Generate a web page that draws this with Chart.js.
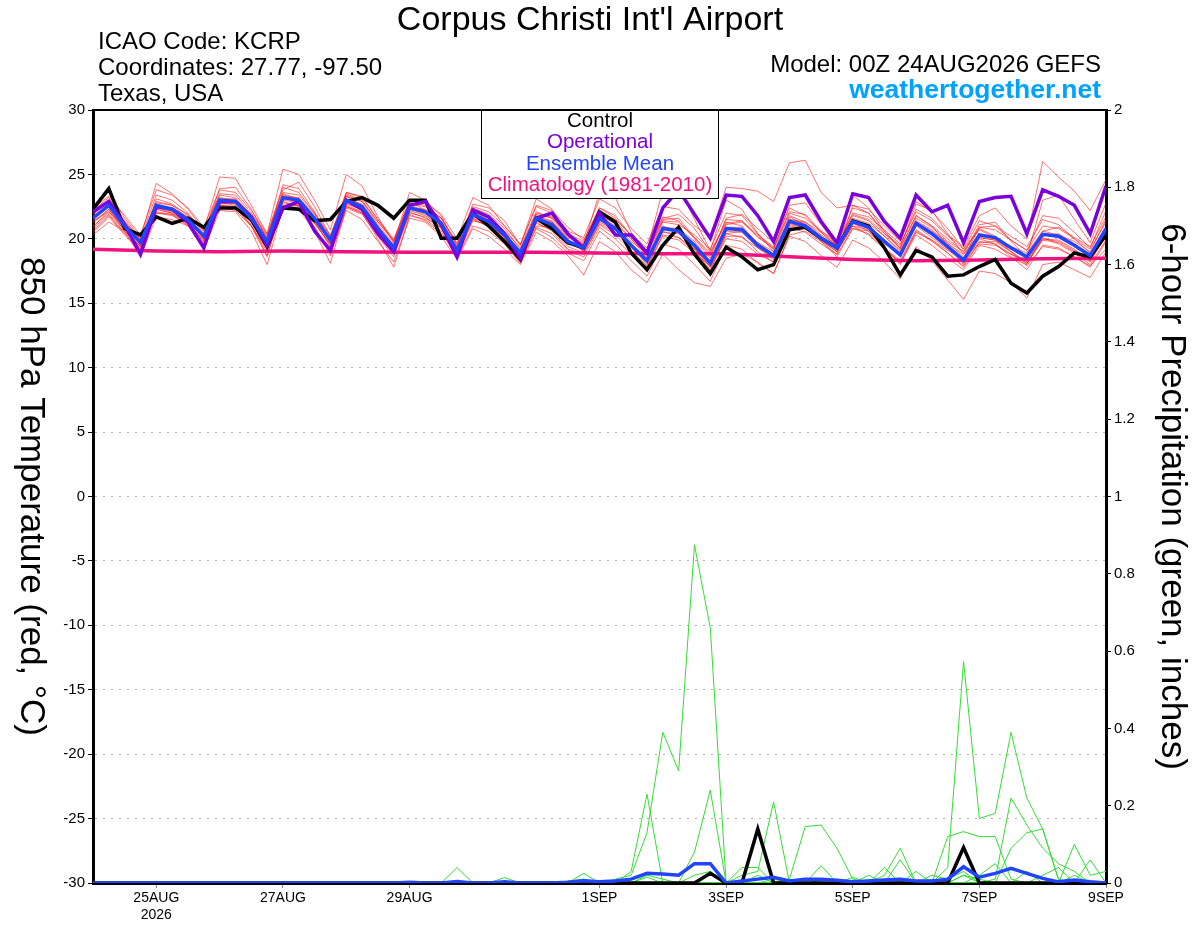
<!DOCTYPE html>
<html>
<head>
<meta charset="utf-8">
<title>Corpus Christi Int'l Airport</title>
<script src="https://cdn.jsdelivr.net/npm/chart.js@4.4.1/dist/chart.umd.min.js"></script>
<style>
  body { margin: 0; background: #ffffff; }
  canvas { display: block; }
</style>
</head>
<body>
<canvas id="grafico" width="1200" height="927"></canvas>
<script>
// Datos: pasos de 6 horas desde 00Z 24AUG2026 hasta 00Z 9SEP2026 (65 valores)
const stepHours = 6;

// eje x: horas desde el inicio y sus etiquetas
const tickHours = [24, 72, 120, 192, 240, 288, 336, 384];
const tickLabels = [['25AUG', '2026'], '27AUG', '29AUG', '1SEP', '3SEP', '5SEP', '7SEP', '9SEP'];

// climatologia (1981-2010), un valor por dia
const climDays = [0, 1, 2, 3, 4, 5, 6, 7, 8, 9, 10, 11, 12, 13, 14, 15, 16];
const climTemp = [19.2, 19.05, 19.0, 19.05, 19.0, 18.95, 18.95, 18.95, 18.9, 18.85, 18.85, 18.6, 18.4, 18.3, 18.35, 18.45, 18.5];

// temperatura 850 hPa (C)
const controlTemp = [
  22.3, 23.9, 20.8, 20.3, 21.7, 21.2, 21.6, 20.9, 22.4, 22.4, 21.5, 19.4, 22.4, 22.3, 21.4, 21.5,
  22.9, 23.2, 22.6, 21.6, 23.0, 23.0, 20.05, 20.05, 22.0, 21.0, 19.8, 18.4, 21.6, 20.8, 19.7, 19.3,
  22.1, 21.3, 18.9, 17.6, 19.5, 20.9, 18.8, 17.3, 19.35, 18.6, 17.6, 18.0, 20.7, 20.9, 20.05, 19.3,
  21.4, 21.0, 19.3, 17.2, 19.1, 18.6, 17.1, 17.2, 17.85, 18.4, 16.55, 15.8, 17.1, 17.85, 18.9, 18.6,
  20.3];
const operTemp = [
  22.1, 22.9, 21.1, 18.8, 22.5, 22.3, 21.3, 19.3, 22.9, 22.9, 21.7, 19.5, 22.4, 22.9, 20.6, 19.1,
  23.0, 22.3, 20.4, 19.0, 22.6, 22.9, 21.1, 18.6, 22.25, 21.7, 20.4, 18.5, 21.6, 22.0, 20.4, 19.3,
  22.0, 20.3, 20.3, 18.9, 22.4, 23.8, 21.9, 20.05, 23.4, 23.3, 21.8, 19.8, 23.2, 23.4, 21.35, 19.7,
  23.5, 23.2, 21.35, 20.05, 23.4, 22.1, 22.6, 19.7, 22.9, 23.2, 23.3, 20.4, 23.8, 23.3, 22.6, 20.4,
  24.1];
const meanTemp = [
  21.6, 22.6, 21.0, 19.7, 22.6, 22.3, 21.5, 20.2, 23.0, 22.9, 21.6, 19.8, 23.2, 23.0, 21.6, 19.9,
  23.0, 22.5, 20.8, 19.3, 22.4, 22.1, 21.2, 19.1, 21.9, 21.35, 20.3, 18.9, 21.6, 21.1, 19.8, 19.3,
  21.6, 20.8, 19.5, 18.3, 20.8, 20.6, 19.5, 18.1, 20.8, 20.7, 19.5, 18.7, 21.35, 21.0, 20.05, 19.3,
  21.35, 20.9, 19.8, 18.75, 21.2, 20.4, 19.4, 18.35, 20.3, 20.1, 19.3, 18.6, 20.35, 20.2, 19.5, 18.7,
  20.8];

// miembros del ensamble (lineas rojas)
const ens01 = [22.5,23.6,21.6,20.1, 24.3,23.5,22.3,20.7, 24.8,24.7,22.6,20.4, 25.4,25.0,23.0,20.7, 25.0,24.1,21.7,19.7, 23.6,23.0,21.8,19.4, 22.7,22.4,21.4,19.5, 23.1,22.3,20.3,19.5, 23.6,23.2,20.5,19.1, 23.8,24.1,21.5,19.1, 23.0,22.3,20.4,19.2, 22.6,22.8,21.1,19.5, 23.4,22.4,20.6,19.3, 22.7,22.2,20.4,18.8, 21.1,21.3,19.8,18.6, 23.0,23.4,21.5,19.7, 22.8];
const ens02 = [21.2,22.3,20.8,19.3, 22.0,21.9,21.2,19.8, 22.5,22.4,21.0,19.2, 22.6,22.7,21.2,19.6, 23.3,22.9,21.3,19.9, 23.0,22.8,21.9,20.0, 23.2,22.6,21.0,19.6, 22.5,22.0,20.6,20.1, 23.1,22.4,20.8,19.6, 22.5,22.3,21.0,20.2, 24.0,23.9,23.7,22.9, 25.9,26.1,23.6,22.4, 22.6,22.0,20.6,19.2, 21.8,21.0,19.5,18.0, 20.0,19.6,18.6,17.6, 19.5,19.3,18.6,17.9, 19.2];
const ens03 = [20.8,21.9,20.5,19.5, 23.1,22.7,21.8,20.6, 23.5,23.4,22.0,20.3, 23.8,24.4,22.5,20.2, 23.6,23.3,21.5,19.8, 22.8,22.6,21.6,19.7, 22.4,21.9,20.8,19.2, 22.0,21.7,20.4,19.0, 21.8,21.0,19.8,18.9, 21.5,21.6,20.1,18.9, 21.2,21.4,20.3,19.4, 22.1,21.9,20.6,19.6, 22.4,22.0,20.4,19.5, 22.3,21.6,20.3,19.4, 21.8,22.4,21.0,20.0, 26.0,24.8,23.7,22.2, 24.6];
const ens04 = [20.3,21.3,20.6,18.6, 21.7,21.5,21.0,19.2, 22.2,22.1,20.6,18.0, 22.4,22.3,20.6,18.1, 22.5,22.0,20.0,17.8, 21.8,21.5,20.6,18.5, 21.0,20.6,19.6,18.1, 20.8,20.1,18.9,18.3, 20.6,19.6,18.3,17.1, 19.6,19.2,18.0,16.7, 19.5,19.2,18.1,17.3, 20.2,19.8,18.7,17.8, 19.9,19.3,18.2,16.9, 19.4,18.3,16.8,15.3, 17.5,17.3,16.6,15.4, 18.0,18.2,17.6,17.0, 19.0];
const ens05 = [21.0,22.0,20.7,19.2, 22.3,22.0,21.3,19.8, 22.6,22.5,21.0,18.6, 22.6,22.4,20.9,18.7, 22.2,21.5,19.8,18.2, 21.6,21.3,20.2,18.4, 20.8,20.2,19.2,18.0, 20.5,19.8,18.7,17.2, 19.8,19.0,17.6,16.6, 18.8,17.6,16.6,16.3, 18.5,18.8,18.2,17.3, 20.3,20.6,19.8,18.6, 20.8,20.6,19.3,18.0, 20.6,19.8,18.9,17.8, 19.7,19.8,19.0,18.2, 20.0,19.9,19.2,18.3, 20.4];
const ens06 = [21.9,22.8,21.3,19.9, 22.9,22.6,21.9,20.6, 23.4,23.2,21.8,20.1, 23.6,23.4,22.0,20.3, 23.4,22.9,21.1,19.6, 22.7,22.5,21.6,19.5, 22.3,21.7,20.6,19.3, 22.1,21.6,20.2,19.7, 22.1,21.4,20.0,18.8, 21.4,21.3,20.1,18.7, 21.5,21.4,20.1,19.3, 22.0,21.6,20.6,19.8, 21.9,21.5,20.4,19.3, 21.8,21.0,20.0,19.0, 20.9,20.7,19.9,19.1, 21.0,20.8,20.0,19.2, 21.3];
const ens07 = [21.3,22.3,20.7,19.4, 22.3,22.0,21.2,19.9, 22.6,22.5,21.3,19.5, 22.8,22.6,21.2,19.6, 22.6,22.1,20.4,18.9, 22.0,21.7,20.8,18.7, 21.5,21.0,19.9,18.5, 21.2,20.7,19.4,18.9, 21.1,20.3,19.1,17.9, 20.3,20.1,19.0,17.6, 20.2,20.2,19.0,18.2, 20.9,20.5,19.6,18.8, 20.8,20.4,19.3,18.3, 20.7,19.9,18.9,17.9, 19.8,19.6,18.8,18.1, 19.9,19.7,19.0,18.2, 20.3];
const ens08 = [22.2,23.2,21.4,20.0, 23.4,23.0,22.0,20.4, 23.9,24.0,22.3,20.0, 24.2,23.9,22.1,19.7, 23.3,22.6,20.5,18.8, 22.1,21.6,20.9,18.6, 21.4,21.1,20.2,18.7, 21.9,21.6,20.4,19.8, 22.4,21.8,20.2,18.9, 21.6,21.9,20.8,19.0, 21.3,21.0,19.6,18.5, 21.7,21.1,19.8,18.8, 22.6,22.3,21.0,19.8, 22.9,22.1,20.8,19.2, 20.8,20.2,19.0,17.9, 19.4,19.2,18.6,17.8, 19.8];
const ens09 = [20.6,21.8,20.4,19.1, 22.0,21.8,21.1,19.6, 22.4,22.2,21.0,19.0, 22.5,22.6,21.4,19.9, 23.6,23.2,21.5,20.0, 22.9,22.2,21.0,18.9, 21.6,21.2,20.1,18.6, 21.3,20.6,19.2,18.8, 21.2,20.5,19.3,18.2, 20.9,20.8,19.8,18.3, 21.1,21.3,20.2,19.2, 21.8,21.3,20.3,19.5, 21.2,20.6,19.3,18.1, 20.3,19.5,18.5,17.6, 19.5,19.2,18.5,18.0, 20.2,20.4,19.6,18.6, 20.9];
const ens10 = [21.8,22.5,21.1,19.8, 22.6,22.4,21.7,20.3, 23.1,23.1,21.9,20.2, 23.5,23.1,21.4,19.4, 22.5,22.0,20.6,19.1, 22.4,22.3,21.6,19.6, 22.5,22.1,21.0,19.5, 22.6,22.2,20.9,19.9, 22.4,21.6,20.3,18.6, 20.6,20.1,19.2,17.8, 20.0,19.8,18.8,18.2, 21.0,20.8,19.9,19.0, 21.0,20.3,19.2,18.2, 20.5,19.9,19.1,18.5, 20.9,21.0,20.2,19.4, 21.5,21.1,20.0,18.9, 20.7];
const ens11 = [21.4,22.1,20.9,19.6, 22.8,22.6,21.6,20.2, 22.9,22.7,21.5,19.7, 23.0,22.8,21.6,20.1, 23.1,22.7,21.0,19.4, 22.3,21.9,21.0,19.0, 21.8,21.2,20.0,18.6, 21.5,21.3,20.1,19.6, 22.1,21.5,20.3,19.3, 21.7,21.4,20.0,18.5, 21.6,21.9,20.8,19.7, 22.4,21.8,20.5,19.4, 21.4,20.9,19.9,18.9, 21.6,20.9,19.8,19.0, 20.7,20.1,19.4,18.9, 20.6,20.3,19.8,19.0, 21.5];
const ens12 = [21.9,23.0,21.3,20.0, 22.4,22.1,21.4,20.0, 23.0,22.8,21.3,19.6, 23.3,23.2,21.9,20.2, 22.8,22.2,20.6,19.0, 22.2,21.8,20.9,18.8, 21.7,21.3,20.5,19.0, 21.8,21.3,20.0,19.0, 21.3,20.7,19.4,18.0, 20.5,20.4,19.3,17.8, 20.4,20.6,19.7,19.0, 21.5,21.2,20.2,19.1, 21.6,21.2,20.2,19.1, 21.4,20.7,19.6,18.8, 20.4,20.0,19.2,18.5, 20.6,20.9,20.1,19.4, 21.7];
const ens13 = [20.9,22.2,20.6,19.4, 22.1,21.9,21.0,19.7, 22.8,22.6,21.1,18.7, 22.9,22.5,20.9,18.9, 22.4,21.9,20.2,18.6, 21.9,21.4,20.4,18.9, 21.9,21.4,20.1,18.5, 21.0,20.9,19.8,19.2, 21.4,20.8,19.4,18.3, 21.0,20.5,19.2,17.5, 20.4,20.1,19.3,18.6, 21.1,20.9,19.9,19.0, 21.0,20.7,19.6,18.9, 21.3,20.6,19.7,18.6, 19.6,19.5,18.8,18.3, 20.1,19.6,18.9,18.0, 19.9];
const ens14 = [22.4,23.3,21.8,20.3, 23.8,23.4,22.4,20.9, 23.8,23.6,22.2,20.4, 24.0,23.6,22.0,20.0, 23.5,23.0,21.3,19.8, 22.6,22.2,21.4,19.3, 22.1,21.5,20.5,19.1, 21.7,21.4,20.2,19.4, 21.8,21.2,20.0,18.5, 21.3,21.1,20.3,19.2, 22.0,21.8,20.4,19.0, 21.2,20.9,20.0,19.4, 22.0,21.7,20.7,19.6, 22.1,21.4,20.2,19.2, 21.4,21.0,19.9,19.1, 21.8,21.6,20.5,19.3, 22.2];
const ens15 = [21.5,22.7,21.2,19.9, 22.5,22.2,21.5,20.1, 23.2,23.0,21.7,19.9, 23.4,23.1,21.5,19.8, 22.9,22.4,20.8,19.3, 22.5,22.1,21.1,19.1, 21.8,21.3,20.2,18.8, 21.4,21.0,19.7,19.1, 21.5,20.9,19.6,18.4, 20.9,20.7,19.6,18.2, 20.9,20.9,19.7,18.8, 21.3,21.0,20.1,19.3, 21.2,20.8,19.7,18.7, 21.1,20.3,19.3,18.4, 20.1,19.9,19.2,18.6, 20.3,20.1,19.4,18.6, 20.6];
const ens16 = [20.5,21.7,20.3,19.0, 22.5,22.4,21.6,20.0, 22.7,22.8,21.5,19.8, 23.1,22.9,21.3,19.4, 22.7,22.3,20.9,19.5, 22.5,22.0,21.0,18.9, 21.6,20.9,19.7,18.2, 20.9,20.4,19.1,18.6, 20.9,20.0,18.8,17.8, 20.2,19.9,18.9,17.9, 20.6,20.5,19.3,18.4, 21.5,21.3,20.5,19.5, 21.8,21.4,20.2,19.0, 21.0,20.1,19.2,18.1, 20.1,19.9,19.0,18.1, 20.0,19.8,19.1,18.3, 20.4];
const ensembleTemp = [ens01, ens02, ens03, ens04, ens05, ens06, ens07, ens08, ens09, ens10, ens11, ens12, ens13, ens14, ens15, ens16];

// precipitacion de 6 horas (pulgadas)
const controlPrecip = [
  0,0,0,0,0,0,0,0,0,0,0,0,0,0,0,0,
  0,0,0,0,0,0,0,0,0,0,0,0,0,0,0,0,
  0,0,0,0,0,0,0,0.025,0,0,0.14,0,0,0,0,0,
  0,0,0,0,0,0,0,0.092,0,0,0,0,0,0,0,0,
  0];
const meanPrecip = [
  0,0,0,0,0,0,0,0,0,0,0,0,0,0,0,0,
  0,0,0,0,0.002,0,0,0.004,0,0,0.003,0,0,0,0.002,0.006,
  0.003,0.005,0.01,0.025,0.023,0.02,0.05,0.05,0,0.005,0.01,0.015,0.005,0.01,0.01,0.007,
  0.003,0.005,0.008,0.01,0.005,0.005,0.01,0.042,0.015,0.025,0.038,0.025,0.012,0.003,0.008,0.003,
  0];
const prc01 = [
  0,0,0,0,0,0,0,0,0,0,0,0,0,0,0,0,
  0,0,0,0,0,0,0,0.04,0,0,0,0,0,0,0,0,
  0,0.01,0.02,0.13,0.39,0.29,0.875,0.66,0,0,0,0,0,0,0,0,
  0,0,0,0,0,0,0,0.02,0.01,0,0,0,0,0,0,0,
  0];
const prc02 = [
  0,0,0,0,0,0,0,0,0,0,0,0,0,0,0,0,
  0,0,0,0,0,0,0,0,0,0,0.014,0,0,0,0,0,
  0,0,0.03,0.23,0,0,0,0,0,0.02,0.03,0.21,0,0,0,0,
  0,0,0.02,0.09,0,0,0,0,0,0,0,0,0,0,0,0,
  0];
const prc03 = [
  0,0,0,0,0,0,0,0,0,0,0,0,0,0,0,0,
  0,0,0,0,0,0,0,0,0,0,0,0,0,0,0,0.025,
  0,0,0,0,0,0,0.08,0.24,0,0,0,0,0,0,0,0,
  0,0,0,0,0,0,0.12,0.133,0.12,0.12,0.01,0,0,0,0,0,
  0];
const prc04 = [
  0,0,0,0,0,0,0,0,0,0,0,0,0,0,0,0,
  0,0,0,0,0,0,0,0,0,0,0,0,0,0,0,0,
  0,0,0,0,0,0,0,0,0,0,0,0,0.01,0.146,0.15,0.09,
  0.01,0,0,0,0,0,0,0,0,0.01,0.22,0.15,0.09,0.05,0.03,0,
  0];
const prc05 = [
  0,0,0,0,0,0,0,0,0,0,0,0,0,0,0,0,
  0,0,0,0,0,0,0,0,0,0,0,0,0,0,0,0,
  0,0,0,0,0,0,0,0,0,0,0,0,0,0,0,0,
  0,0,0,0,0,0,0.04,0.573,0.167,0.18,0.39,0.22,0.14,0.008,0,0,
  0];
const prc06 = [
  0,0,0,0,0,0,0,0,0,0,0,0,0,0,0,0,
  0,0,0,0,0,0,0,0,0,0,0,0,0,0,0,0.01,
  0,0,0,0.02,0.01,0,0,0,0,0.04,0.04,0,0,0,0.045,0,
  0,0,0.04,0,0.03,0,0,0,0,0,0.09,0.13,0.14,0.01,0,0,
  0];
const prc07 = [
  0,0,0,0,0,0,0,0,0,0,0,0,0,0,0,0,
  0,0,0,0,0.003,0,0,0,0,0,0,0,0,0,0,0,
  0,0,0,0,0,0,0,0.03,0,0,0.02,0,0,0,0,0,
  0,0.02,0,0,0,0.02,0.01,0.03,0,0,0,0,0,0,0.10,0.02,
  0.03];
const prc08 = [
  0,0,0,0,0,0,0,0,0,0,0,0,0,0,0,0,
  0,0,0,0,0,0,0,0,0,0,0,0,0,0,0,0,
  0,0,0,0.015,0,0,0.02,0.03,0,0,0,0,0,0,0,0,
  0,0.01,0,0.06,0,0,0,0,0.02,0.05,0,0,0.02,0.04,0,0.06,
  0];
const prc09 = [
  0,0,0,0,0,0,0,0,0,0,0,0,0,0,0,0,
  0,0,0,0,0,0,0,0,0,0,0,0,0,0,0.005,0.01,
  0,0,0,0,0,0,0,0,0,0,0,0.01,0,0.01,0,0,
  0.015,0,0,0,0,0.01,0,0.02,0,0,0,0.03,0,0,0.02,0,
  0];
const ensemblePrecip = [prc01, prc02, prc03, prc04, prc05, prc06, prc07, prc08, prc09];

// textos del encabezado y de la leyenda
const titleText = "Corpus Christi Int'l Airport";
const infoLeft = ['ICAO Code: KCRP', 'Coordinates: 27.77, -97.50', 'Texas, USA'];
const modelText = 'Model: 00Z 24AUG2026 GEFS';
const siteText = 'weathertogether.net';
const legendNames = ['Control', 'Operational', 'Ensemble Mean', 'Climatology (1981-2010)'];
const legendColors = ['#000000', '#7a00dc', '#2244ff', '#f0127f'];
const leftTitle = '850 hPa Temperature (red, \u00B0C)';
const rightTitle = '6-hour Precipitation (green, inches)';

const fontFam = '"Liberation Sans", Arial, Helvetica, sans-serif';
Chart.defaults.font.family = fontFam;

// convierte una lista de valores en puntos {x: horas, y: valor}
function toPoints(values) {
    return values.map((v, i) => ({ x: i * stepHours, y: v }));
}

let datasets = [];

datasets.push({ label: 'Ensemble Mean', data: toPoints(meanTemp), yAxisID: 'y', borderColor: legendColors[2], borderWidth: 3.5, order: 0 });
datasets.push({ label: 'Operational', data: toPoints(operTemp), yAxisID: 'y', borderColor: legendColors[1], borderWidth: 3.5, order: 1 });
datasets.push({ label: 'Control', data: toPoints(controlTemp), yAxisID: 'y', borderColor: legendColors[0], borderWidth: 3.5, order: 2 });
datasets.push({ label: 'Climatology', data: climDays.map((d, i) => ({ x: d * 24, y: climTemp[i] })), yAxisID: 'y', borderColor: legendColors[3], borderWidth: 3.5, order: 3 });

datasets.push({ label: 'Mean precip', data: toPoints(meanPrecip), yAxisID: 'y2', borderColor: legendColors[2], borderWidth: 3.5, order: 0 });
datasets.push({ label: 'Control precip', data: toPoints(controlPrecip), yAxisID: 'y2', borderColor: '#000000', borderWidth: 3.5, order: 1 });

ensemblePrecip.forEach((serie, k) => {
    datasets.push({ label: 'P' + (k + 1), data: toPoints(serie), yAxisID: 'y2', borderColor: '#33dd33', borderWidth: 1, order: 4 });
});
ensembleTemp.forEach((serie, k) => {
    datasets.push({ label: 'T' + (k + 1), data: toPoints(serie), yAxisID: 'y', borderColor: 'rgba(255, 20, 20, 0.6)', borderWidth: 1, order: 5 });
});

// textos fijos, leyenda y marco del grafico
const decoraciones = {
    id: 'decoraciones',
    afterDatasetsDraw(chart) {
        const c = chart.ctx;
        const a = chart.chartArea;
        c.save();

        // caja de la leyenda
        c.fillStyle = '#ffffff';
        c.fillRect(481, a.top, 238, 88);
        c.strokeStyle = '#000000';
        c.lineWidth = 1;
        c.strokeRect(481.5, a.top + 0.5, 237, 88);
        c.font = '20.5px ' + fontFam;
        c.textAlign = 'center';
        c.textBaseline = 'middle';
        legendNames.forEach((name, i) => {
            c.fillStyle = legendColors[i];
            c.fillText(name, 600, a.top + 11 + i * 21.5);
        });

        // borde superior
        c.beginPath();
        c.moveTo(a.left, a.top);
        c.lineTo(a.right, a.top);
        c.lineWidth = 2;
        c.strokeStyle = '#000000';
        c.stroke();
        c.restore();
    },
    afterDraw(chart) {
        const c = chart.ctx;
        const a = chart.chartArea;
        const midY = (a.top + a.bottom) / 2;
        c.save();
        c.fillStyle = '#000000';
        c.textBaseline = 'alphabetic';

        c.font = '34px ' + fontFam;
        c.textAlign = 'center';
        c.fillText(titleText, 590, 30);

        c.font = '24px ' + fontFam;
        c.textAlign = 'left';
        infoLeft.forEach((t, i) => c.fillText(t, 98, 49 + i * 26));

        c.textAlign = 'right';
        c.fillText(modelText, 1101, 72);
        c.font = 'bold 26.5px ' + fontFam;
        c.fillStyle = '#00a2ff';
        c.fillText(siteText, 1101, 98);

        // titulos de los ejes, girados en sentido horario
        c.fillStyle = '#000000';
        c.font = '35px ' + fontFam;
        c.textAlign = 'center';
        [[21, leftTitle], [1162, rightTitle]].forEach(([x, t]) => {
            c.save();
            c.translate(x, midY);
            c.rotate(Math.PI / 2);
            c.fillText(t, 0, 0);
            c.restore();
        });
        c.restore();
    }
};

const ctx = document.getElementById('grafico');

new Chart(ctx, {
    type: 'line',
    data: { datasets: datasets },
    options: {
        responsive: false,
        animation: false,
        devicePixelRatio: 1,
        layout: { padding: { top: 110, left: 0, right: 0, bottom: 0 } },
        elements: { point: { radius: 0 }, line: { tension: 0, fill: false } },
        plugins: { legend: { display: false }, tooltip: { enabled: false } },
        scales: {
            x: {
                type: 'linear',
                min: 0,
                max: 384,
                afterBuildTicks: (s) => { s.ticks = tickHours.map(v => ({ value: v })); },
                afterFit: (s) => { s.height = 44; },
                ticks: {
                    autoSkip: false,
                    maxRotation: 0,
                    color: '#000000',
                    font: { size: 14 },
                    padding: 2,
                    callback: (v, i) => tickLabels[i]
                },
                grid: { drawOnChartArea: false, tickLength: 5, tickColor: '#888888', tickWidth: 1 },
                border: { color: '#000000', width: 3 }
            },
            y: {
                position: 'left',
                min: -30,
                max: 30,
                afterFit: (s) => { s.width = 93; },
                ticks: { stepSize: 5, color: '#000000', font: { size: 15 }, padding: 3 },
                grid: {
                    color: (g) => (g.tick && Math.abs(g.tick.value) === 30) ? 'rgba(0,0,0,0)' : '#b4b4b4',
                    lineWidth: 1,
                    tickColor: '#000000',
                    tickLength: 5,
                    tickBorderDash: []
                },
                border: { color: '#000000', width: 3, dash: [2, 6] }
            },
            y2: {
                position: 'right',
                min: 0,
                max: 2,
                afterFit: (s) => { s.width = 94; },
                ticks: {
                    stepSize: 0.2,
                    color: '#000000',
                    font: { size: 15 },
                    padding: 3,
                    callback: (v) => String(Math.round(v * 10) / 10)
                },
                grid: { drawOnChartArea: false, tickColor: '#000000', tickLength: 5 },
                border: { color: '#000000', width: 3 }
            }
        }
    },
    plugins: [decoraciones]
});
</script>
</body>
</html>
